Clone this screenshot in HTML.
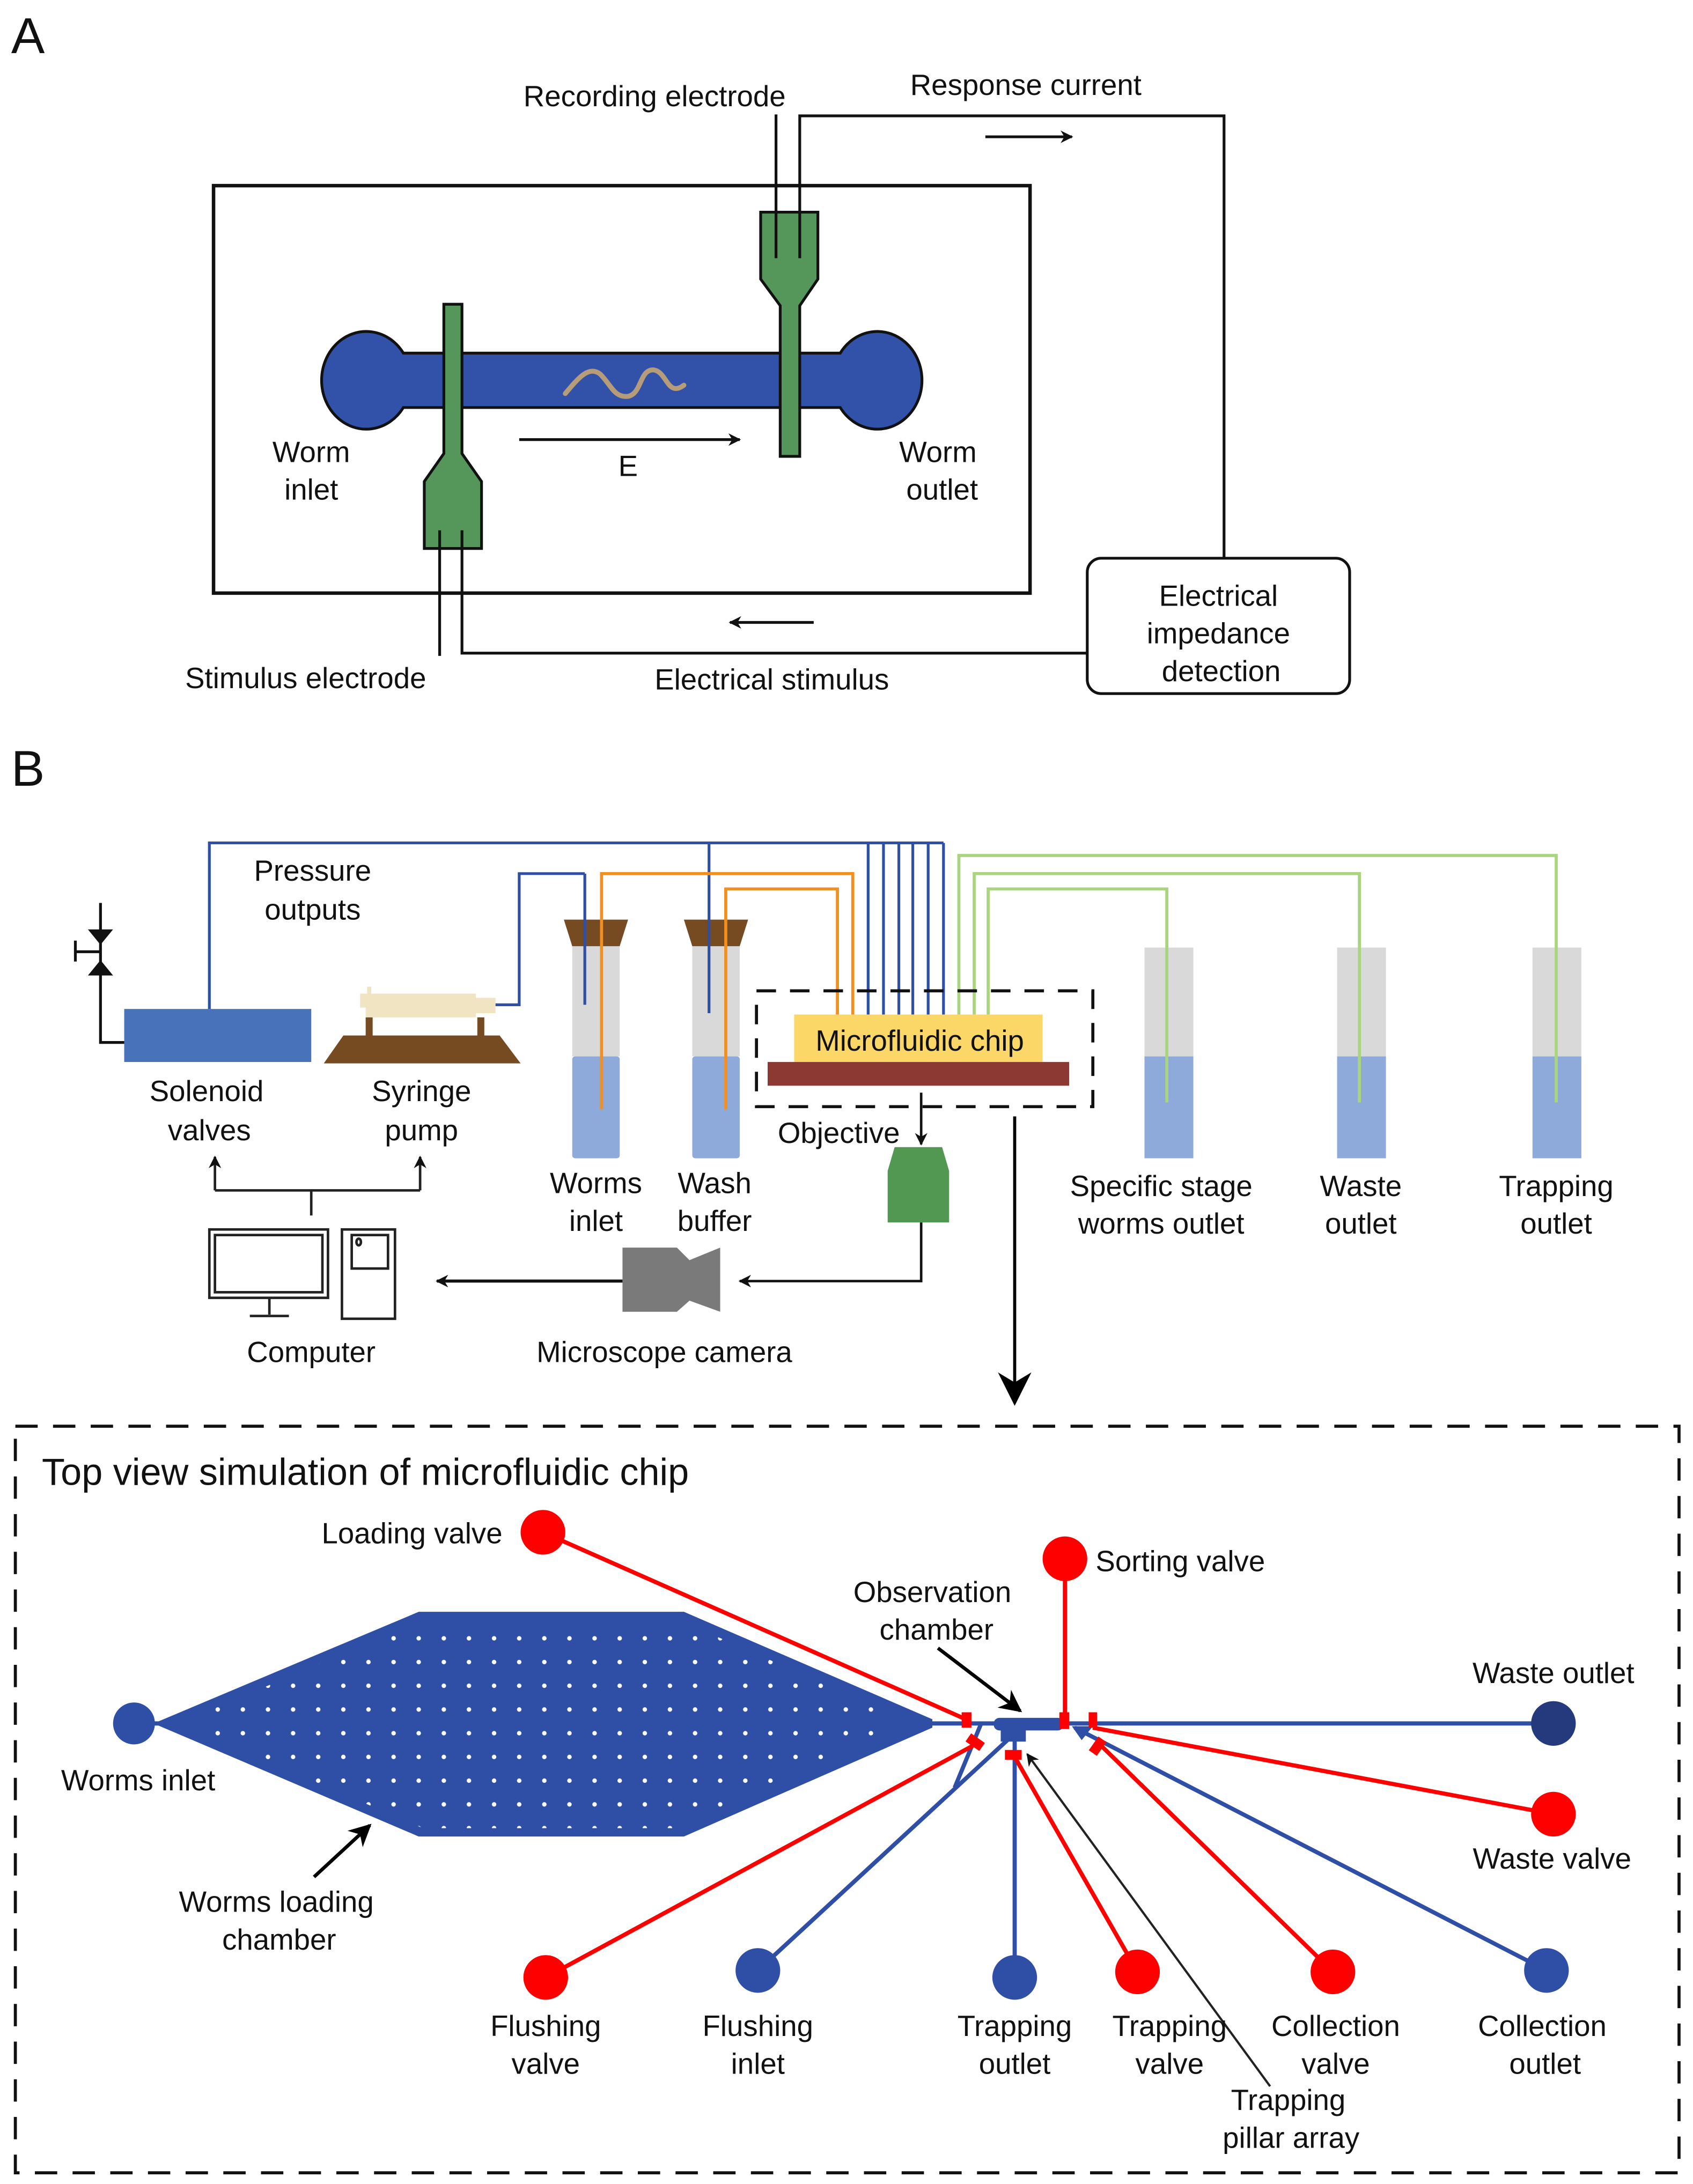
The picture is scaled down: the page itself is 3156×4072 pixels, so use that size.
<!DOCTYPE html>
<html><head><meta charset="utf-8"><style>
html,body{margin:0;padding:0;background:#fff}
svg{display:block}
text{font-family:"Liberation Sans",Arial,sans-serif;fill:#111}
</style></head><body>
<svg width="3156" height="4072" viewBox="0 0 1213 1565" xmlns="http://www.w3.org/2000/svg">
<defs>
<marker id="ah" viewBox="0 0 10 10" refX="9" refY="5" markerWidth="9" markerHeight="9" markerUnits="userSpaceOnUse" orient="auto"><path d="M0,0 L10,5 L0,10 L3,5 z" fill="#111"/></marker>
<marker id="ahb" viewBox="0 0 10 10" refX="9" refY="5" markerWidth="16" markerHeight="16" markerUnits="userSpaceOnUse" orient="auto"><path d="M0,0 L10,5 L0,10 L3,5 z" fill="#000"/></marker>
<marker id="ahc" viewBox="0 0 10 10" refX="9" refY="5" markerWidth="24" markerHeight="24" markerUnits="userSpaceOnUse" orient="auto"><path d="M0,0 L10,5 L0,10 L3,5 z" fill="#000"/></marker>
<pattern id="dots" x="3" y="1166" width="18" height="17" patternUnits="userSpaceOnUse">
<circle cx="9" cy="8" r="1.6" fill="#fff"/>
</pattern>
</defs>
<rect width="1213" height="1565" fill="#fff"/>

<!-- ============ A ============ -->
<text x="8" y="38" font-size="36">A</text>
<rect x="153" y="133" width="585" height="292" fill="none" stroke="#111" stroke-width="2.5"/>
<path d="M289,253 L602,253 A32,35 0 1 1 602,292 L289,292 A32,35 0 1 1 289,253 Z" fill="#3152a8" stroke="#111" stroke-width="2"/>
<path d="M405,282 C415,270 422,262 430,268 C438,276 440,285 450,284 C460,282 458,265 468,265 C478,266 478,285 490,276" fill="none" stroke="#b69c78" stroke-width="3.5" stroke-linecap="round"/>
<path d="M318,218 L331,218 L331,325 L345,345 L345,393 L304,393 L304,345 L318,325 Z" fill="#55965a" stroke="#111" stroke-width="2"/>
<path d="M545,152 L586,152 L586,200 L573,219 L573,327 L559,327 L559,219 L545,200 Z" fill="#55965a" stroke="#111" stroke-width="2"/>
<g fill="none" stroke="#111" stroke-width="2">
<path d="M556,82 L556,185"/>
<path d="M573,185 L573,83 L877,83 L877,400"/>
<path d="M315,380 L315,470"/>
<path d="M331,380 L331,468 L779,468"/>
<line x1="706" y1="98" x2="768" y2="98" marker-end="url(#ah)"/>
<line x1="583" y1="446" x2="523" y2="446" marker-end="url(#ah)"/>
<line x1="372" y1="315" x2="530" y2="315" marker-end="url(#ah)"/>
</g>
<rect x="779" y="400" width="188" height="97" rx="10" fill="#fff" stroke="#111" stroke-width="2"/>
<g font-size="21" text-anchor="middle">
<text x="469" y="76">Recording electrode</text>
<text x="735" y="68">Response current</text>
<text x="450" y="341">E</text>
<text x="223" y="331">Worm</text><text x="223" y="358">inlet</text>
<text x="672" y="331">Worm</text><text x="675" y="358">outlet</text>
<text x="873" y="434">Electrical</text><text x="873" y="461">impedance</text><text x="875" y="488">detection</text>
<text x="219" y="493">Stimulus electrode</text>
<text x="553" y="494">Electrical stimulus</text>
</g>

<!-- ============ B ============ -->
<text x="8" y="563" font-size="36">B</text>
<g fill="none" stroke="#2e4fa6" stroke-width="2">
<path d="M150,723 L150,604 L676,604"/>
<path d="M622,604 L622,727 M633,604 L633,727 M644,604 L644,727 M654,604 L654,727 M665,604 L665,727 M676,604 L676,727"/>
<path d="M355,720 L372,720 L372,626 L419,626"/>
</g>
<g>
<rect x="410" y="677" width="34" height="80" fill="#d9d9d9"/><rect x="410" y="757" width="34" height="73" rx="2" fill="#8eaadb"/>
<path d="M404,659 L450,659 L444,678 L410,678 Z" fill="#774b22"/>
<rect x="496" y="677" width="34" height="80" fill="#d9d9d9"/><rect x="496" y="757" width="34" height="73" rx="2" fill="#8eaadb"/>
<path d="M490,659 L536,659 L530,678 L496,678 Z" fill="#774b22"/>
<rect x="820" y="679" width="35" height="78" fill="#d9d9d9"/><rect x="820" y="757" width="35" height="73" fill="#8eaadb"/>
<rect x="958" y="679" width="35" height="78" fill="#d9d9d9"/><rect x="958" y="757" width="35" height="73" fill="#8eaadb"/>
<rect x="1098" y="679" width="35" height="78" fill="#d9d9d9"/><rect x="1098" y="757" width="35" height="73" fill="#8eaadb"/>
</g>
<g fill="none" stroke="#2e4fa6" stroke-width="2"><path d="M419,626 L419,720 M508,604 L508,726"/></g>
<g fill="none" stroke="#f38f1e" stroke-width="2.2">
<path d="M431,795 L431,626 L611,626 L611,727"/>
<path d="M520,795 L520,637 L600,637 L600,727"/>
</g>
<g fill="none" stroke="#a8d57e" stroke-width="2.2">
<path d="M687,727 L687,613 L1115,613 L1115,790"/>
<path d="M698,727 L698,626 L974,626 L974,790"/>
<path d="M708,727 L708,637 L836,637 L836,790"/>
</g>
<rect x="569" y="727" width="178" height="34" fill="#fbd767"/>
<rect x="550" y="761" width="216" height="17" fill="#8c3833"/>
<text x="659" y="753" font-size="21" text-anchor="middle">Microfluidic chip</text>
<rect x="542" y="710" width="241" height="83" fill="none" stroke="#111" stroke-width="2.2" stroke-dasharray="14,10"/>
<line x1="660" y1="783" x2="660" y2="820" stroke="#111" stroke-width="1.8" marker-end="url(#ah)"/>
<path d="M641,822 L675,822 L680,839 L680,876 L636,876 L636,839 Z" fill="#529752"/>
<path d="M660,876 L660,918 L530,918" fill="none" stroke="#111" stroke-width="1.8" marker-end="url(#ah)"/>
<path d="M446,894 L485,894 L494,903 L516,894 L516,940 L494,932 L485,940 L446,940 Z" fill="#7a7a7a"/>
<line x1="446" y1="918" x2="313" y2="918" stroke="#111" stroke-width="2.2" marker-end="url(#ah)"/>
<g fill="none" stroke="#222" stroke-width="1.8">
<rect x="150" y="881" width="85" height="49"/>
<rect x="154" y="885" width="77" height="41"/>
<line x1="193" y1="930" x2="193" y2="942"/>
<line x1="179" y1="943" x2="207" y2="943"/>
<rect x="245" y="881" width="38" height="64"/>
<rect x="252" y="885" width="26" height="24"/>
<ellipse cx="257" cy="890" rx="1.6" ry="2.4"/>
<path d="M223,871 L223,853 M154,853 L301,853"/>
<line x1="154" y1="853" x2="154" y2="829" marker-end="url(#ah)"/>
<line x1="301" y1="853" x2="301" y2="829" marker-end="url(#ah)"/>
</g>
<rect x="89" y="723" width="134" height="38" fill="#4872b9"/>
<g stroke="#111" stroke-width="2" fill="none"><path d="M72,647 L72,747 L89,747 M54,674 L54,689 M54,682 L72,682"/></g>
<path d="M63,666 L81,666 L72,677 Z M63,699 L81,699 L72,688 Z" fill="#111"/>
<path d="M246,742 L358,742 L373,762 L232,762 Z" fill="#774b22"/>
<rect x="262" y="729" width="5" height="14" fill="#774b22"/><rect x="342" y="729" width="5" height="14" fill="#774b22"/>
<path d="M258,712 L263,712 L263,707 L266,707 L266,712 L341,712 L341,715 L355,715 L355,726 L341,726 L341,729 L262,729 L262,722 L258,722 Z" fill="#f1e4c3"/>
<g font-size="21" text-anchor="middle">
<text x="224" y="631">Pressure</text><text x="224" y="659">outputs</text>
<text x="148" y="789">Solenoid</text><text x="150" y="817">valves</text>
<text x="302" y="789">Syringe</text><text x="302" y="817">pump</text>
<text x="427" y="855">Worms</text><text x="427" y="882">inlet</text>
<text x="512" y="855">Wash</text><text x="512" y="882">buffer</text>
<text x="601" y="819">Objective</text>
<text x="832" y="857">Specific stage</text><text x="832" y="884">worms outlet</text>
<text x="975" y="857">Waste</text><text x="975" y="884">outlet</text>
<text x="1115" y="857">Trapping</text><text x="1115" y="884">outlet</text>
<text x="223" y="976">Computer</text>
<text x="476" y="976">Microscope camera</text>
</g>
<line x1="727" y1="800" x2="727" y2="1005" stroke="#000" stroke-width="2.2" marker-end="url(#ahc)"/>

<!-- ============ top view ============ -->
<rect x="11" y="1022" width="1192" height="535" fill="none" stroke="#111" stroke-width="2.2" stroke-dasharray="16,11"/>
<text x="30" y="1064" font-size="27">Top view simulation of microfluidic chip</text>
<g stroke="#2f4fa6" stroke-width="3" fill="none">
<line x1="96" y1="1235" x2="120" y2="1235"/>
<line x1="660" y1="1235" x2="1113" y2="1235"/>
<line x1="543" y1="1412" x2="725" y2="1244"/>
<line x1="684" y1="1281" x2="703" y2="1235"/>
<line x1="727" y1="1417" x2="727" y2="1244"/>
<line x1="1108" y1="1412" x2="770" y2="1238"/>
</g>
<path d="M110,1235 L300,1155 L490,1155 L668,1232 L668,1238 L490,1316 L300,1316 Z" fill="#2f4fa6"/>
<path d="M128,1235 L303,1161 L487,1161 L650,1233 L487,1310 L303,1310 Z" fill="url(#dots)"/>
<rect x="712" y="1231" width="50" height="9" rx="4" fill="#2f4fa6"/>
<rect x="717" y="1238" width="18" height="10" fill="#2f4fa6"/>
<path d="M768,1237 L783,1237 L775,1247 Z" fill="#2f4fa6"/>
<circle cx="96" cy="1235" r="15" fill="#2f4fa6"/>
<circle cx="1113" cy="1235" r="16" fill="#243a7c"/>
<circle cx="543" cy="1412" r="16" fill="#2f4fa6"/>
<circle cx="727" cy="1417" r="16" fill="#2f4fa6"/>
<circle cx="1108" cy="1412" r="16" fill="#2f4fa6"/>
<g stroke="#ff0000" stroke-width="3" fill="none">
<line x1="389" y1="1098" x2="692" y2="1232"/>
<line x1="763" y1="1117" x2="763" y2="1233"/>
<line x1="1113" y1="1300" x2="783" y2="1238"/>
<line x1="955" y1="1413" x2="789" y2="1251"/>
<line x1="815" y1="1413" x2="727" y2="1259"/>
<line x1="391" y1="1417" x2="697" y2="1251"/>
</g>
<g fill="#ff0000">
<circle cx="389" cy="1098" r="16"/>
<circle cx="763" cy="1117" r="16"/>
<circle cx="1113" cy="1300" r="16"/>
<circle cx="955" cy="1413" r="16"/>
<circle cx="815" cy="1413" r="16"/>
<circle cx="391" cy="1417" r="16"/>
<rect x="689" y="1227" width="7" height="11"/>
<rect x="759" y="1227" width="7" height="12"/>
<rect x="780" y="1227" width="6" height="11"/>
<rect x="720" y="1254" width="12" height="7"/>
<rect x="693" y="1245" width="12" height="7" transform="rotate(35 699 1248)"/>
<rect x="783" y="1245" width="7" height="12" transform="rotate(35 786 1251)"/>
</g>
<line x1="672" y1="1181" x2="731" y2="1226" stroke="#000" stroke-width="2.5" marker-end="url(#ahb)"/>
<line x1="910" y1="1495" x2="736" y2="1257" stroke="#222" stroke-width="1.6" marker-end="url(#ah)"/>
<line x1="225" y1="1345" x2="265" y2="1308" stroke="#000" stroke-width="2.5" marker-end="url(#ahb)"/>
<g font-size="21" text-anchor="middle">
<text x="360" y="1106" text-anchor="end">Loading valve</text>
<text x="785" y="1126" text-anchor="start">Sorting valve</text>
<text x="668" y="1148">Observation</text><text x="671" y="1175">chamber</text>
<text x="1113" y="1206">Waste outlet</text>
<text x="1112" y="1339">Waste valve</text>
<text x="99" y="1283">Worms inlet</text>
<text x="198" y="1370">Worms loading</text><text x="200" y="1397">chamber</text>
<text x="391" y="1459">Flushing</text><text x="391" y="1486">valve</text>
<text x="543" y="1459">Flushing</text><text x="543" y="1486">inlet</text>
<text x="727" y="1459">Trapping</text><text x="727" y="1486">outlet</text>
<text x="838" y="1459">Trapping</text><text x="838" y="1486">valve</text>
<text x="957" y="1459">Collection</text><text x="957" y="1486">valve</text>
<text x="1105" y="1459">Collection</text><text x="1107" y="1486">outlet</text>
<text x="923" y="1512">Trapping</text><text x="925" y="1539">pillar array</text>
</g>
</svg>
</body></html>
